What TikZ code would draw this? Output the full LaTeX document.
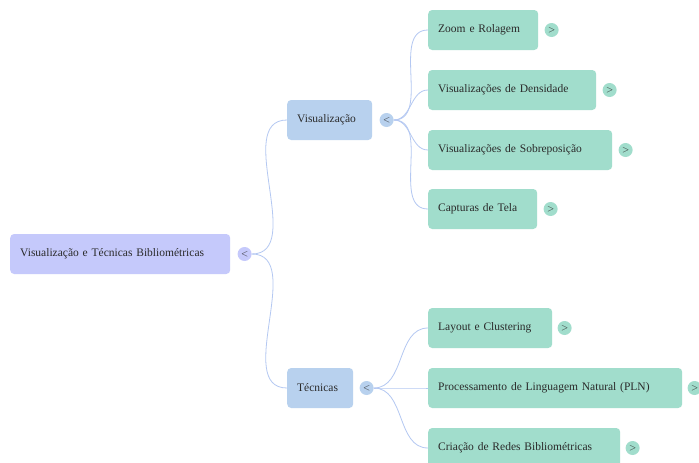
\documentclass[tikz,border=0pt]{standalone}
\usepackage{fontspec}
\setmainfont{Liberation Serif}
\usetikzlibrary{positioning}
\definecolor{rootfill}{HTML}{C5C9FB}
\definecolor{midfill}{HTML}{B8D1EE}
\definecolor{leaffill}{HTML}{A1DDCC}
\definecolor{linkcol}{HTML}{B4C8F2}
\definecolor{inkcol}{HTML}{2A2A2A}
\tikzstyle{topic}=[rounded corners=4pt,minimum height=40pt,inner xsep=10pt,inner ysep=0pt,align=left,anchor=west,text=inkcol,font=\fontsize{11.5}{13}\selectfont]
\tikzstyle{roottopic}=[topic,fill=rootfill]
\tikzstyle{midtopic}=[topic,fill=midfill]
\tikzstyle{leaftopic}=[topic,fill=leaffill]
\tikzstyle{toggle}=[circle,minimum size=14pt,inner sep=0pt,text=inkcol,font=\fontsize{9}{9}\selectfont]
\tikzstyle{link}=[draw=linkcol,line width=0.8pt]

\begin{document}
\begin{tikzpicture}[x=1pt,y=-1pt]
    \useasboundingbox[fill=white] (0,0) rectangle (699,463);

    % root and second level
    \node[roottopic,text width=200pt] (root) at (10,254) {Visualização e Técnicas Bibliométricas};
    \node[toggle,fill=rootfill,right=7pt of root] (troot) {$<$};
    \node[midtopic,text width=65pt] (vis) at (287,120) {Visualização};
    \node[toggle,fill=midfill,right=7pt of vis] (tvis) {$<$};
    \node[midtopic,text width=46pt] (tec) at (287,388) {Técnicas};
    \node[toggle,fill=midfill,right=6pt of tec] (ttec) {$<$};

    \foreach \dest in {vis, tec}
        \path[link] (troot.east) to[out=0,in=180] (\dest.west);

    % leaves under Visualização
    \foreach \yy/\name/\tw/\txt in {30/zoom/90/{Zoom e Rolagem}, 90/dens/148/{Visualizações de Densidade},
        150/sobre/164/{Visualizações de Sobreposição}, 209/capt/89/{Capturas de Tela}}
    {
        \node[leaftopic,text width=\tw pt] (\name) at (428,\yy) {\txt};
        \node[toggle,fill=leaffill,right=6pt of \name] (t\name) {$>$};
        \path[link] (tvis.east) to[out=0,in=180] (\name.west);
    }

    % leaves under Técnicas
    \foreach \yy/\name/\tw/\txt in {328/lay/104/{Layout e Clustering}, 388/pln/234/{Processamento de Linguagem Natural (PLN)},
        448/redes/172/{Criação de Redes Bibliométricas}}
    {
        \node[leaftopic,text width=\tw pt] (\name) at (428,\yy) {\txt};
        \node[toggle,fill=leaffill,right=5pt of \name] (t\name) {$>$};
        \path[link] (ttec.east) to[out=0,in=180] (\name.west);
    }
\end{tikzpicture}
\end{document}
